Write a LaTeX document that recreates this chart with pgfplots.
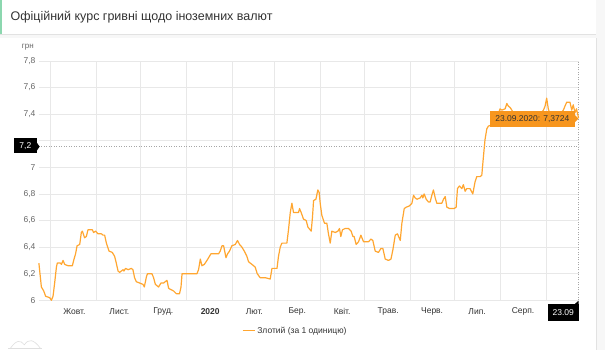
\documentclass[border=0pt]{standalone}
\usepackage{fontspec}
\setmainfont{Liberation Sans}
\usepackage{pgfplots}
\pgfplotsset{compat=1.18}
\definecolor{lineor}{RGB}{255,166,48}
\definecolor{tipor}{RGB}{247,150,30}
\definecolor{gridc}{RGB}{232,232,232}
\definecolor{txt}{RGB}{51,51,51}
\definecolor{lab}{RGB}{102,102,102}
\definecolor{bgc}{RGB}{247,247,247}
\definecolor{cardb}{RGB}{226,226,226}
\definecolor{titlegreen}{RGB}{140,215,175}
\pgfplotstableread{
d v
0 6.28
1.7 6.10
3.3 6.07
4.6 6.03
7.3 6.02
8.5 6.00
9.6 6.03
10.7 6.13
11.9 6.25
12.5 6.28
14.6 6.28
15.3 6.27
16.4 6.30
17.5 6.27
19.8 6.26
22.7 6.26
23.6 6.30
24.9 6.35
25.9 6.41
27.7 6.42
28.8 6.51
29.5 6.52
31.0 6.47
32.2 6.48
33.3 6.53
36.3 6.53
37.1 6.51
38.5 6.52
40.1 6.50
42.4 6.50
43.5 6.49
44.6 6.49
45.8 6.43
47.6 6.37
49.8 6.36
51.4 6.33
52.5 6.28
53.7 6.22
54.8 6.21
55.9 6.22
57.1 6.23
57.7 6.22
58.8 6.24
60.5 6.23
62.7 6.24
63.8 6.23
64.9 6.17
66.1 6.14
68.3 6.13
70.6 6.12
71.5 6.10
73.0 6.18
73.7 6.20
76.7 6.20
77.8 6.17
79.0 6.12
81.2 6.10
82.8 6.13
84.6 6.13
85.7 6.14
86.9 6.15
88.0 6.09
89.6 6.08
91.4 6.07
93.2 6.05
95.4 6.05
96.4 6.10
97.1 6.20
107.2 6.20
108.3 6.23
109.5 6.31
110.6 6.26
112.2 6.27
114.0 6.30
115.1 6.32
116.7 6.35
121.9 6.35
123.0 6.37
124.2 6.41
125.3 6.41
126.9 6.32
128.0 6.35
129.3 6.37
130.9 6.41
133.2 6.42
134.7 6.45
136.1 6.42
137.7 6.40
139.3 6.37
141.1 6.33
142.2 6.29
144.5 6.27
146.7 6.25
148.1 6.20
150.1 6.17
153.5 6.17
156.9 6.16
158.1 6.24
161.5 6.24
162.5 6.33
163.7 6.40
164.8 6.43
168.2 6.43
169.3 6.53
170.5 6.66
171.6 6.73
172.7 6.66
176.1 6.66
176.8 6.69
177.9 6.66
179.5 6.61
181.3 6.60
182.5 6.55
184.0 6.53
184.7 6.52
185.6 6.63
186.3 6.75
187.9 6.76
189.2 6.83
190.1 6.81
190.8 6.73
191.9 6.64
193.7 6.58
195.3 6.58
196.4 6.50
197.6 6.43
198.7 6.52
201.0 6.51
202.8 6.52
203.9 6.54
204.8 6.48
205.9 6.53
207.7 6.54
210.0 6.54
211.8 6.52
213.0 6.48
213.8 6.48
215.2 6.42
216.8 6.44
218.4 6.49
220.2 6.44
223.5 6.44
225.2 6.46
226.5 6.45
228.1 6.37
230.3 6.36
232.0 6.39
233.3 6.39
234.9 6.31
237.1 6.30
238.8 6.31
240.1 6.38
241.7 6.49
243.2 6.50
245.1 6.45
246.2 6.58
247.8 6.69
249.1 6.70
251.3 6.71
253.0 6.73
254.1 6.79
255.2 6.77
256.4 6.76
258.6 6.77
259.8 6.79
260.4 6.77
261.3 6.80
262.7 6.76
264.2 6.74
265.4 6.74
266.5 6.79
267.6 6.83
268.8 6.77
269.9 6.73
273.3 6.73
274.4 6.76
275.6 6.78
276.7 6.70
278.5 6.69
281.6 6.69
283.0 6.70
283.9 6.84
285.2 6.86
286.9 6.84
287.9 6.87
289.1 6.82
290.2 6.84
292.4 6.84
294.3 6.80
295.8 6.89
297.0 6.93
299.2 6.93
300.4 6.94
301.5 7.08
302.6 7.21
303.8 7.29
304.9 7.31
307.2 7.32
309.4 7.34
311.5 7.40
312.8 7.44
314.0 7.43
316.2 7.44
317.4 7.48
318.4 7.46
319.6 7.45
320.8 7.43
323.0 7.38
326.4 7.36
329.8 7.38
333.1 7.37
336.5 7.39
339.9 7.40
342.2 7.43
343.3 7.46
344.4 7.52
345.5 7.44
346.7 7.40
350.1 7.38
353.4 7.40
355.7 7.43
356.8 7.46
358.0 7.49
360.2 7.49
361.4 7.43
362.4 7.47
363.6 7.41
364.6 7.44
366 7.3724
}\zloty
\begin{document}
\begin{tikzpicture}
\begin{scope}[x=1pt,y=1pt]
\fill[bgc] (0,0) rectangle (605,350);
% title card
\fill[white] (0,316) rectangle (596,350);
\draw[cardb, line width=0.8pt] (0,315.6) -- (596,315.6);
\fill[titlegreen] (0,316) rectangle (1.6,350);
\node[anchor=west, inner sep=0pt, font=\fontsize{12.5}{14}\selectfont, text=txt] at (10,333) {Офіційний курс гривні щодо іноземних валют};
% body card
\fill[white] (0,0) rectangle (596,312);
\draw[cardb, line width=0.5pt] (596,0) -- (596,312);
\node[inner sep=0pt, font=\fontsize{8}{10}\selectfont, text=lab] at (27.5,303) {грн};
% faint logo
\draw[gray!25, line width=0.6pt] (8,1.5) -- (42,1.5);
\draw[gray!25, line width=0.6pt] (10,1.5) .. controls (16,10) and (20,10) .. (24,5) .. controls (28,11) and (33,11) .. (40,1.5);
\end{scope}
\begin{axis}[
  at={(38.5pt,49.5pt)}, anchor=south west, scale only axis,
  width=540pt, height=239.5pt,
  xmin=0, xmax=366, ymin=6, ymax=7.8,
  axis line style={draw=none},
  major tick length=0pt, minor tick length=0pt,
  ytick={6,6.2,6.4,6.6,6.8,7,7.2,7.4,7.6,7.8},
  yticklabels={{6},{6,2},{6,4},{6,6},{6,8},{7},{},{7,4},{7,6},{7,8}},
  ymajorgrids,
  grid style={gridc, line width=0.6pt},
  minor grid style={gridc, line width=0.6pt},
  xtick={24.1,54.6,84.4,116.2,146.1,175.2,205.7,236.9,266.7,297.2,328.4},
  xticklabels={Жовт.,Лист.,Груд.,\textbf{2020},Лют.,Бер.,Квіт.,Трав.,Черв.,Лип.,Серп.},
  minor xtick={8,39,69,100,131,160,191,221,252,282,313,344},
  xminorgrids,
  xticklabel style={font=\fontsize{8.5}{10}\selectfont, text=txt, anchor=center, yshift=-11.5pt},
  yticklabel style={font=\fontsize{8.5}{10}\selectfont, text=lab},
  legend style={at={(0.475,-0.127)}, anchor=center, draw=none, fill=none,
    font=\fontsize{8.5}{10}\selectfont, text=txt, inner sep=1pt},
  legend image code/.code={\draw[lineor, line width=1.4pt] (0pt,0pt) -- (12pt,0pt);},
  clip=false,
]
\draw[gray!70, line width=0.6pt, dash pattern=on 1pt off 1.5pt] (axis cs:0,7.156) -- (axis cs:366,7.156);
\draw[gray!70, line width=0.6pt, dash pattern=on 1pt off 1.5pt] (axis cs:366,6) -- (axis cs:366,7.8);
\addplot[lineor, line width=1.2pt, line join=round] table[x=d, y=v] {\zloty};
\addlegendentry{Злотий (за 1 одиницю)}
\node[fill=tipor, text=txt, font=\fontsize{8.5}{10}\selectfont, inner sep=0pt,
  minimum width=85pt, minimum height=16pt, anchor=east] (tt)
  at ([xshift=-3.5pt, yshift=-0.8pt]axis cs:366,7.3724) {23.09.2020: 7,3724};
\fill[tipor] ([yshift=3.5pt]tt.east) -- ++(3.5pt,-3.5pt) -- ++(-3.5pt,-3.5pt) -- cycle;
\end{axis}
\begin{scope}[x=1pt,y=1pt]
\fill[black] (13.3,196.7) rectangle (36.7,211.7);
\fill[black] (36.7,207) -- (39.2,203.3) -- (36.7,199.6) -- cycle;
\node[text=white, font=\fontsize{8.5}{10}\selectfont, inner sep=0pt] at (25,204.2) {7,2};
\fill[black] (548,28.5) rectangle (578.5,46);
\fill[black] (575,46) -- (578.5,49) -- (578.5,46) -- cycle;
\node[text=white, font=\fontsize{8.5}{10}\selectfont, inner sep=0pt] at (563.2,37.3) {23.09};
\end{scope}
\end{tikzpicture}
\end{document}
